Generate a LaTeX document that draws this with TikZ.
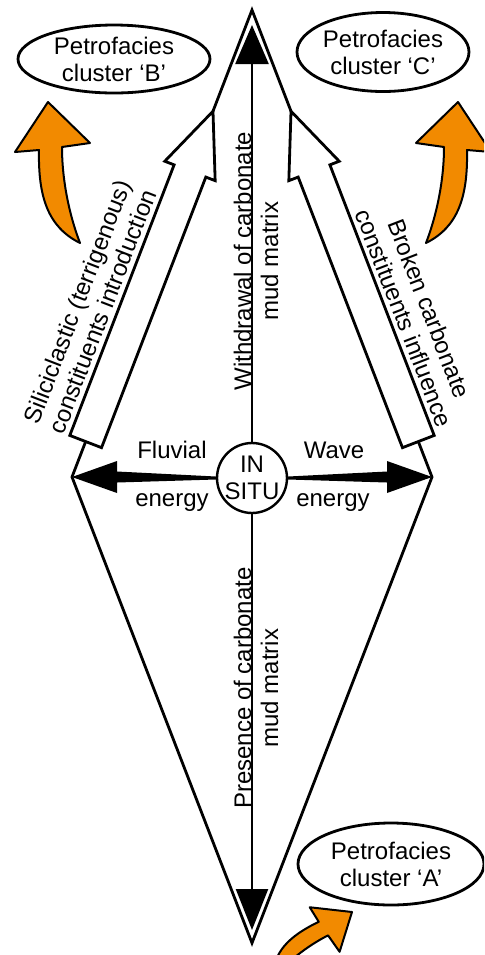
\documentclass[tikz,border=0pt]{standalone}
\usepackage{fontspec}
\setmainfont{Liberation Sans}
\usetikzlibrary{arrows.meta, positioning, calc, shapes.geometric}
\definecolor{flowfill}{HTML}{F28A00}
% curved orange arrow, tip at the origin, pointing up
\newcommand{\curvedflow}{(0,0) -- (-33,50) -- (-9,48) .. controls (-10,95) and (0,125) .. (32,141)
    .. controls (22,115) and (14,80) .. (14,45) -- (42,41) -- cycle}

\begin{document}
\begin{tikzpicture}[
    x=0.5pt, y=-0.5pt,
    font=\fontsize{12}{13.5}\selectfont,
    kite/.style={line width=1.4pt, line join=miter},
    shaft/.style={line width=1.2pt},
    bigarrow/.style={draw, fill=white, line width=1.4pt, line join=miter},
    flow/.style={draw, fill=flowfill, line width=1pt, line join=round},
    cluster/.style={draw, ellipse, line width=1.4pt, align=center, inner sep=0pt},
    note/.style={align=center, inner sep=0pt}
]
    \useasboundingbox (0,0) rectangle (484,955);
    \clip (0,0) rectangle (484,955);

    \coordinate (top) at (252,10);
    \coordinate (bot) at (252,943);
    \coordinate (lft) at (72,477);
    \coordinate (rgt) at (432,477);
    \coordinate (uptip) at (252,25);
    \coordinate (downtip) at (252,930);

    % orange arrows
    \draw[flow, shift={(48,102)}] \curvedflow;
    \draw[flow, shift={(458,102)}, xscale=-1] \curvedflow;
    \draw[flow, shift={(352,912)}, rotate=-63, scale=0.71] \curvedflow;

    \draw[kite] (top) -- (lft) -- (bot) -- (rgt) -- cycle;

    % white arrows on the upper edges
    \begin{scope}[shift={(lft)}, rotate=68.92]
        \draw[bigarrow] (38,-17) -- (328,-17) -- (328,-27) -- (392,0) -- (328,27) -- (328,17) -- (38,17) -- cycle;
    \end{scope}
    \begin{scope}[shift={(rgt)}, rotate=111.08]
        \draw[bigarrow] (38,-17) -- (328,-17) -- (328,-27) -- (392,0) -- (328,27) -- (328,17) -- (38,17) -- cycle;
    \end{scope}

    \node[draw, circle, fill=white, line width=1.2pt, inner sep=0pt, align=center] (insitu) at (252,478) {IN\\SITU};

    \draw[shaft, -{Triangle[length=19.5pt, width=16.5pt]}] (insitu) -- (uptip);
    \draw[shaft, -{Triangle[length=20.5pt, width=16pt]}] (insitu) -- (downtip);

    % energy arrows
    \fill ($(insitu.west)+(0,-1.5)$) -- ($(lft)+(45,-5.5)$) -- ($(lft)+(45,-16)$) -- (lft)
        -- ($(lft)+(45,16)$) -- ($(lft)+(45,5.5)$) -- ($(insitu.west)+(0,1.5)$) -- cycle;
    \fill ($(insitu.east)+(0,-1.5)$) -- ($(rgt)+(-45,-5.5)$) -- ($(rgt)+(-45,-16)$) -- (rgt)
        -- ($(rgt)+(-45,16)$) -- ($(rgt)+(-45,5.5)$) -- ($(insitu.east)+(0,1.5)$) -- cycle;

    \node[note, anchor=base] (fluvial) at (172,458) {Fluvial};
    \node[note, anchor=base] (fluvialen) at (172,506) {energy};
    \node[note, anchor=base] (wave) at (334,458) {Wave};
    \node[note, anchor=base] (waveen) at (333,506) {energy};

    \node[note, rotate=90] (withdrawal) at (256,261) {Withdrawal of carbonate\\mud matrix};
    \node[note, rotate=90] (presence) at (256,688) {Presence of carbonate\\mud matrix};

    \path (lft) -- (top) node[note, sloped, pos=0.33, above=11pt] (silici) {Siliciclastic (terrigenous)\\constituents introduction};
    \path (rgt) -- (top) node[note, sloped, pos=0.316, above=11pt] (broken) {Broken carbonate\\constituents influence};

    \node[cluster, minimum width=96pt, minimum height=34pt] (clusterB) at (114,59) {Petrofacies\\cluster ‘B’};
    \node[cluster, minimum width=86pt, minimum height=39.5pt] (clusterC) at (383,52) {Petrofacies\\cluster ‘C’};
    \node[cluster, minimum width=93pt, minimum height=41pt] (clusterA) at (391,864) {Petrofacies\\cluster ‘A’};
\end{tikzpicture}
\end{document}
